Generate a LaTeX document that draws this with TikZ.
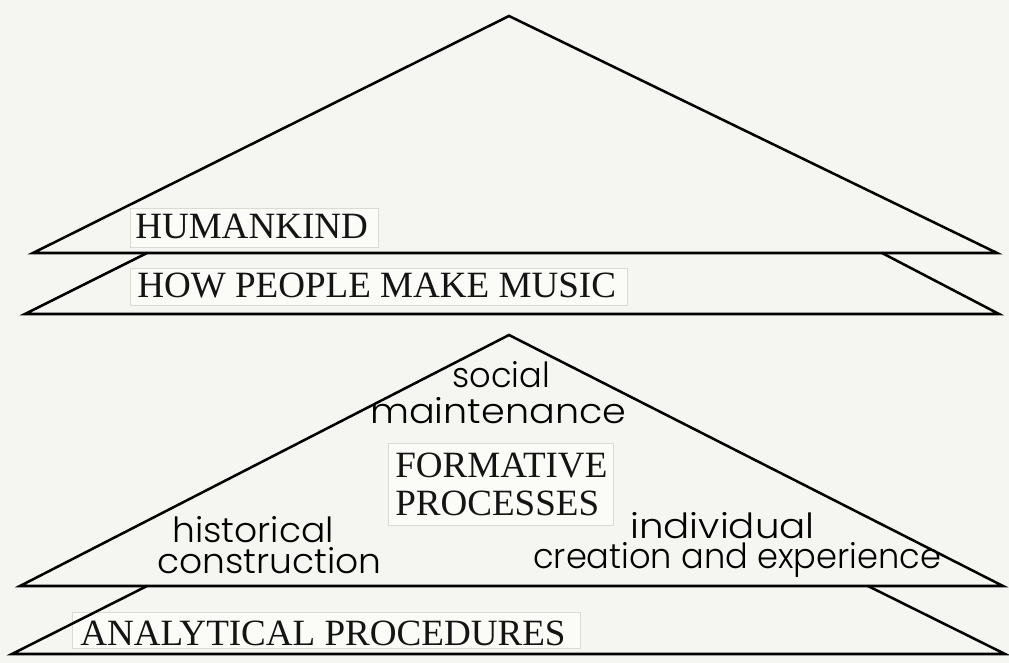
\documentclass[tikz,border=0pt]{standalone}
\usepackage{fontspec}
\setmainfont{Liberation Serif}
\newfontfamily\hand{Poppins Light}
\definecolor{paper}{HTML}{F5F5F1}
\definecolor{slip}{HTML}{FBFBF8}
\definecolor{slipedge}{HTML}{DADAD3}
% handwritten word with a horizontal stretch factor
\newcommand{\handword}[2]{\scalebox{#1}[1]{#2}}
\tikzset{
  roof/.style={line width=1.9pt, line join=miter, line cap=round, black},
  slipbox/.style={fill=slip, draw=slipedge, line width=0.6pt},
  caption/.style={font=\fontsize{27.8}{30}\selectfont, inner sep=0pt, anchor=base west, text=black!92},
  % two-line handwriting; the base anchor sits on the last line
  script/.style={font=\hand\fontsize{26}{#1}\selectfont,
    inner sep=0pt, anchor=base west, align=left, text=black},
}
\begin{document}
\begin{tikzpicture}[x=0.75pt,y=-0.75pt]
  \useasboundingbox (0,0) rectangle (1009,663);
  \fill[paper] (0,0) rectangle (1009,663);

  % paper slips behind the printed captions
  \draw[slipbox] (130,208) rectangle (378,247);
  \draw[slipbox] (130,268) rectangle (627,305);
  \draw[slipbox] (388,443) rectangle (613,525);
  \draw[slipbox] (72,612) rectangle (580,648);

  % upper roof and its band
  \coordinate (apexA) at (509,16);
  \coordinate (leftA) at (33,253);
  \coordinate (rightA) at (997,253);
  \coordinate (bandAli) at (147,253);
  \coordinate (bandAri) at (882,253);
  \coordinate (bandAlo) at (25,314);
  \coordinate (bandAro) at (999,314);
  \draw[roof] (leftA) -- (apexA) -- (rightA) -- cycle;
  \draw[roof] (bandAli) -- (bandAlo) -- (bandAro) -- (bandAri);

  % lower roof and its band
  \coordinate (apexB) at (509,335);
  \coordinate (leftB) at (20,586);
  \coordinate (rightB) at (1003,586);
  \coordinate (bandBli) at (147,586);
  \coordinate (bandBri) at (868,586);
  \coordinate (bandBlo) at (12,654);
  \coordinate (bandBro) at (1005,654);
  \draw[roof] (leftB) -- (apexB) -- (rightB) -- cycle;
  \draw[roof] (bandBli) -- (bandBlo) -- (bandBro) -- (bandBri);

  % printed captions
  \node[caption] (humankind) at (135,238) {HUMANKIND};
  \node[caption] (howpeople) at (137,297) {HOW PEOPLE MAKE MUSIC};
  \node[caption] (formative) at (395,477) {FORMATIVE};
  \node[caption] (processes) at (395,515) {PROCESSES};
  \node[caption] (analytical) at (80,645) {ANALYTICAL PROCEDURES};

  % handwritten labels, two lines each
  \node[script=27pt] (social) at (370,423)
    {\hspace*{61.5pt}\handword{0.97}{social}\\\handword{1.10}{maintenance}};
  \node[script=23.25pt] (historical) at (157,573)
    {\hspace*{11.25pt}\handword{1.04}{historical}\\\handword{1.04}{construction}};
  \node[script=22.5pt] (individual) at (533,568)
    {\hspace*{72.75pt}\handword{1.12}{individual}\\\handword{0.97}{creation and experience}};
\end{tikzpicture}
\end{document}
